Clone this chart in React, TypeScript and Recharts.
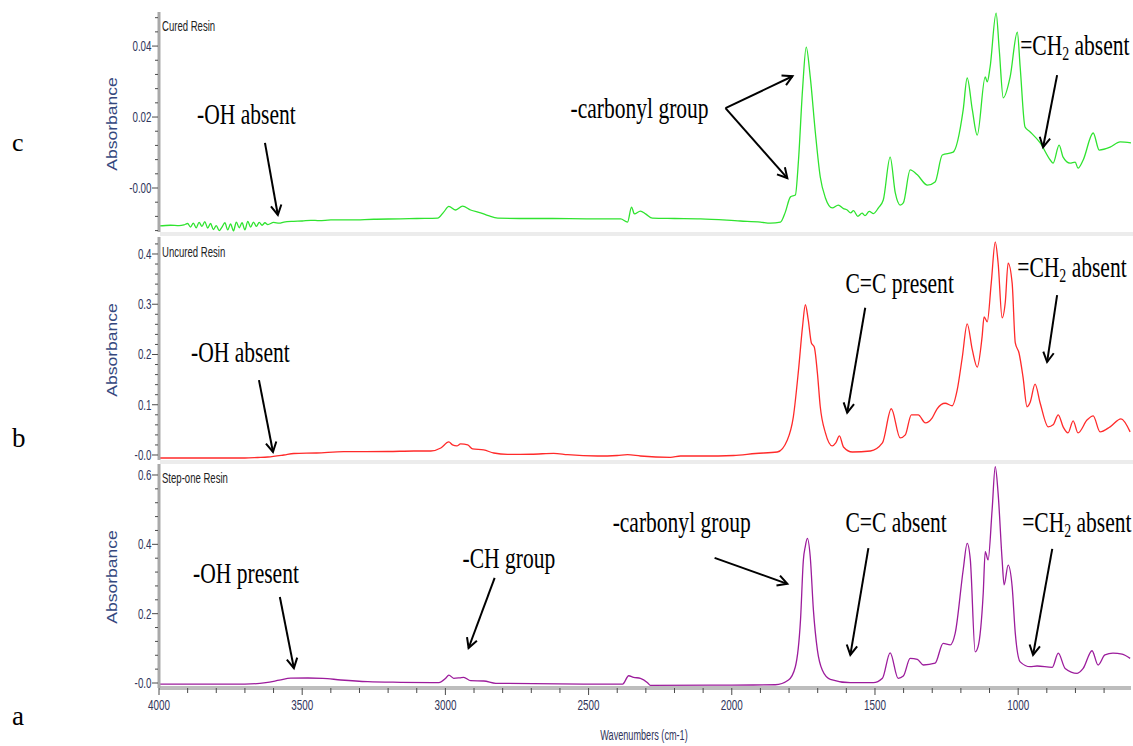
import React from "react";
import {
  LineChart,
  Line,
  XAxis,
  YAxis,
  ReferenceLine,
  ReferenceDot,
} from "recharts";

// [wavenumber cm-1, absorbance]
const curedPoints: [number, number][] = [
  [4000, -0.0107], [3960, -0.0105], [3930, -0.0106], [3913, -0.0104],
  [3900, -0.01], [3890, -0.011], [3880, -0.0099], [3870, -0.0112],
  [3860, -0.0097], [3850, -0.0108], [3840, -0.0095], [3830, -0.0113],
  [3820, -0.01], [3810, -0.0117], [3800, -0.0106], [3790, -0.012],
  [3780, -0.011], [3770, -0.0098], [3760, -0.0118], [3750, -0.0101],
  [3740, -0.0121], [3730, -0.0096], [3720, -0.0112], [3710, -0.0098],
  [3700, -0.0118], [3690, -0.0094], [3680, -0.011], [3670, -0.0096],
  [3660, -0.0108], [3650, -0.0097], [3640, -0.0105], [3630, -0.0098],
  [3620, -0.0103], [3600, -0.0097], [3580, -0.0099], [3564, -0.0096],
  [3530, -0.0094], [3500, -0.0093], [3470, -0.0091], [3440, -0.0092],
  [3400, -0.009], [3330, -0.009], [3250, -0.0088], [3156, -0.0087],
  [3100, -0.0086], [3027, -0.0085], [3006, -0.0068], [2988, -0.0052],
  [2964, -0.0062], [2940, -0.0051], [2912, -0.0062], [2877, -0.007],
  [2850, -0.0078], [2817, -0.0085], [2700, -0.0086], [2633, -0.0086],
  [2500, -0.0087], [2388, -0.0087], [2364, -0.0096], [2350, -0.0054],
  [2340, -0.0073], [2319, -0.0065], [2301, -0.0073], [2277, -0.0085],
  [2200, -0.0086], [2109, -0.0087], [1970, -0.0093], [1900, -0.0096],
  [1865, -0.0099], [1830, -0.0096], [1813, -0.0068], [1795, -0.0025],
  [1778, -0.002], [1767, 0.0079], [1753, 0.0276], [1740, 0.0397],
  [1726, 0.0313], [1708, 0.0155], [1691, 0.0031], [1673, -0.0028],
  [1649, -0.0056], [1628, -0.0048], [1610, -0.0058], [1597, -0.0062],
  [1585, -0.007], [1575, -0.0064], [1560, -0.008], [1545, -0.0071],
  [1535, -0.0078], [1520, -0.0066], [1505, -0.0072], [1488, -0.0056],
  [1471, -0.0034], [1447, 0.0087], [1429, -0.0014], [1412, -0.0048],
  [1401, -0.0042], [1377, 0.0051], [1352, 0.0037], [1317, 0.0008],
  [1290, 0.0017], [1265, 0.0093], [1227, 0.0101], [1192, 0.022],
  [1178, 0.031], [1160, 0.022], [1143, 0.0149], [1115, 0.0313],
  [1108, 0.0299], [1098, 0.0341], [1077, 0.0493], [1066, 0.0389],
  [1052, 0.0254], [1028, 0.0313], [1003, 0.0439], [993, 0.0341],
  [976, 0.0172], [958, 0.0158], [923, 0.0127], [888, 0.0079],
  [878, 0.007], [857, 0.0121], [843, 0.0087], [819, 0.007],
  [801, 0.0073], [791, 0.0056], [773, 0.0079], [738, 0.0155],
  [717, 0.0107], [679, 0.0115], [644, 0.013], [606, 0.0127],
];

const uncuredPoints: [number, number][] = [
  [4000, -0.006], [3700, -0.006], [3655, -0.005], [3620, -0.004],
  [3564, 0], [3529, 0.003], [3450, 0.004], [3355, 0.0066],
  [3200, 0.007], [3110, 0.008], [3051, 0.008], [3016, 0.014],
  [2988, 0.026], [2975, 0.02], [2960, 0.018], [2947, 0.022],
  [2922, 0.02], [2905, 0.012], [2866, 0.01], [2831, 0.004],
  [2783, 0.0014], [2700, 0.0015], [2622, 0.0034], [2573, 0.0006],
  [2469, -0.002], [2400, -0.001], [2364, 0.0006], [2319, -0.002],
  [2214, -0.0046], [2179, -0.002], [2100, -0.002], [1994, -0.001],
  [1917, 0.003], [1841, 0.006], [1806, 0.03], [1785, 0.076],
  [1767, 0.169], [1753, 0.255], [1743, 0.299], [1733, 0.269],
  [1722, 0.223], [1712, 0.215], [1701, 0.163], [1691, 0.096],
  [1673, 0.044], [1649, 0.018], [1637, 0.024], [1624, 0.038],
  [1610, 0.016], [1579, 0.006], [1516, 0.008], [1474, 0.024],
  [1443, 0.092], [1412, 0.034], [1394, 0.04], [1373, 0.08],
  [1349, 0.08], [1324, 0.064], [1300, 0.074], [1283, 0.092],
  [1255, 0.103], [1230, 0.098], [1213, 0.129], [1195, 0.195],
  [1178, 0.261], [1160, 0.209], [1143, 0.175], [1126, 0.235],
  [1119, 0.275], [1108, 0.265], [1094, 0.342], [1080, 0.424],
  [1070, 0.382], [1056, 0.273], [1045, 0.304], [1035, 0.382],
  [1021, 0.342], [1010, 0.223], [997, 0.203], [983, 0.155],
  [969, 0.096], [958, 0.105], [941, 0.141], [923, 0.103],
  [895, 0.056], [878, 0.06], [860, 0.08], [843, 0.056],
  [826, 0.044], [808, 0.068], [791, 0.044], [759, 0.07],
  [738, 0.078], [714, 0.046], [679, 0.056], [641, 0.072],
  [609, 0.046],
];

const stepOnePoints: [number, number][] = [
  [4000, -0.003], [3700, -0.003], [3627, 0.001], [3580, 0.008],
  [3540, 0.014], [3480, 0.0145], [3428, 0.0136], [3365, 0.0087],
  [3271, 0.0037], [3156, 0.002], [3023, 0.001], [2999, 0.0136],
  [2988, 0.023], [2971, 0.0136], [2950, 0.015], [2936, 0.0164],
  [2912, 0.0066], [2866, 0.0058], [2824, -0.001], [2517, -0.003],
  [2381, -0.003], [2360, 0.021], [2343, 0.0164], [2319, 0.0136],
  [2294, 0.001], [2284, -0.0066], [2000, -0.006], [1848, -0.005],
  [1802, 0.0087], [1778, 0.047], [1760, 0.182], [1750, 0.355],
  [1743, 0.395], [1736, 0.417], [1726, 0.364], [1715, 0.211],
  [1701, 0.095], [1684, 0.0375], [1656, 0.0107], [1586, 0.001],
  [1506, 0.001], [1474, 0.0136], [1447, 0.087], [1419, 0.0136],
  [1401, 0.02], [1377, 0.071], [1352, 0.068], [1331, 0.052],
  [1290, 0.057], [1262, 0.1145], [1237, 0.11], [1220, 0.143],
  [1192, 0.326], [1178, 0.403], [1167, 0.355], [1150, 0.09],
  [1140, 0.105], [1122, 0.259], [1115, 0.379], [1105, 0.355],
  [1091, 0.499], [1080, 0.624], [1070, 0.547], [1056, 0.355],
  [1049, 0.283], [1035, 0.34], [1021, 0.278], [1010, 0.143],
  [993, 0.061], [958, 0.047], [934, 0.049], [881, 0.045],
  [860, 0.086], [836, 0.042], [794, 0.028], [773, 0.042],
  [742, 0.093], [721, 0.052], [697, 0.081], [669, 0.086],
  [637, 0.083], [609, 0.071],
];

const xMajor = [4000, 3500, 3000, 2500, 2000, 1500, 1000];
const xTicks: number[] = [];
for (let w = 3900; w >= 700; w -= 100) xTicks.push(w);
xTicks.push(4000);

const curedMajor = [0, 0.02, 0.04];
const curedLabels = ["-0.00", "0.02", "0.04"];
const uncuredMajor = [0, 0.1, 0.2, 0.3, 0.4];
const uncuredLabels = ["-0.0", "0.1", "0.2", "0.3", "0.4"];
const stepOneMajor = [0, 0.2, 0.4, 0.6];
const stepOneLabels = ["-0.0", "0.2", "0.4", "0.6"];

type Note = {
  text: string;
  sub?: string;
  tail?: string;
  at: [number, number];
  arrows: [number, number, number, number][];
};

const curedNotes: Note[] = [
  { text: "-OH absent", at: [3867, 0.018], arrows: [[3630, 0.0127, 3585, -0.0076]] },
  {
    text: "-carbonyl group",
    at: [2563, 0.0197],
    arrows: [
      [2022, 0.0225, 1788, 0.0315],
      [2022, 0.0225, 1806, 0.0028],
    ],
  },
  { text: "=CH", sub: "2", tail: " absent", at: [993, 0.0375], arrows: [[864, 0.0318, 913, 0.0115]] },
];

const uncuredNotes: Note[] = [
  { text: "-OH absent", at: [3888, 0.185], arrows: [[3651, 0.149, 3602, 0.006]] },
  { text: "C=C present", at: [1603, 0.322], arrows: [[1534, 0.293, 1597, 0.084]] },
  { text: "=CH", sub: "2", tail: " absent", at: [1003, 0.354], arrows: [[864, 0.318, 899, 0.185]] },
];

const stepOneNotes: Note[] = [
  { text: "-OH present", at: [3881, 0.288], arrows: [[3578, 0.248, 3529, 0.043]] },
  { text: "-CH group", at: [2940, 0.332], arrows: [[2828, 0.303, 2919, 0.101]] },
  { text: "-carbonyl group", at: [2416, 0.436], arrows: [[2060, 0.361, 1806, 0.286]] },
  { text: "C=C absent", at: [1603, 0.436], arrows: [[1523, 0.389, 1586, 0.081]] },
  { text: "=CH", sub: "2", tail: " absent", at: [986, 0.436], arrows: [[881, 0.387, 948, 0.081]] },
];

const SANS = "'Liberation Sans', Arial, sans-serif";
const SERIF = "'Liberation Serif', 'Times New Roman', serif";

function minorTicks(lo: number, hi: number, step: number) {
  const out: number[] = [];
  const n = Math.round((hi - lo) / step);
  for (let i = 0; i <= n; i++) out.push(Math.round((lo + i * step) * 1e6) / 1e6);
  return out;
}

const makeYTick = (majors: number[], labels: string[]) => (p: any) => {
  const { x, y, payload } = p;
  const i = majors.findIndex((m) => Math.abs(m - payload.value) < 1e-9);
  return (
    <g>
      <line x1={x - (i >= 0 ? 7 : 4)} x2={x - 1} y1={y} y2={y} stroke="#4a4a4a" strokeWidth={1} />
      {i >= 0 && (
        <text
          transform={`translate(${x - 7.5},${y + 5}) scale(0.7,1)`}
          textAnchor="end"
          fontFamily={SANS}
          fontSize={14}
          fill="#30345a"
        >
          {labels[i]}
        </text>
      )}
    </g>
  );
};

const XTick = (p: any) => {
  const { x, y, payload } = p;
  const major = xMajor.includes(payload.value);
  return (
    <g>
      <line x1={x} x2={x} y1={y} y2={y + (major ? 7 : 5)} stroke="#4a4a4a" strokeWidth={1} />
      {major && (
        <text
          transform={`translate(${x},${y + 22}) scale(0.66,1)`}
          textAnchor="middle"
          fontFamily={SANS}
          fontSize={15}
          fill="#30345a"
        >
          {payload.value}
        </text>
      )}
    </g>
  );
};

const Arrow = (p: any) => {
  const { x1, y1, x2, y2 } = p;
  const a = Math.atan2(y2 - y1, x2 - x1);
  const h = 11;
  const s = 0.5;
  const ax = x2 - h * Math.cos(a - s);
  const ay = y2 - h * Math.sin(a - s);
  const bx = x2 - h * Math.cos(a + s);
  const by = y2 - h * Math.sin(a + s);
  return (
    <g>
      <line x1={x1} y1={y1} x2={x2} y2={y2} stroke="#000" strokeWidth={2} />
      <polyline points={`${ax},${ay} ${x2},${y2} ${bx},${by}`} fill="none" stroke="#000" strokeWidth={2} />
    </g>
  );
};

const noteText = (n: Note) => (p: any) => (
  <text
    transform={`translate(${p.cx},${p.cy}) scale(0.73,1)`}
    fontFamily={SERIF}
    fontSize={29.5}
    fill="#000"
  >
    {n.text}
    {n.sub && (
      <tspan fontSize={19} dy={5}>
        {n.sub}
      </tspan>
    )}
    {n.tail && <tspan dy={n.sub ? -5 : 0}>{n.tail}</tspan>}
  </text>
);

type PanelProps = {
  top: number;
  height: number;
  marginTop: number;
  marginBottom: number;
  points: [number, number][];
  color: string;
  domain: [number, number];
  majors: number[];
  labels: string[];
  minor: number[];
  notes: Note[];
  showX?: boolean;
};

function Panel(props: PanelProps) {
  const data = props.points.map(([wn, abs]) => ({ wn, abs }));
  const ticks = props.minor.filter((v) => v >= props.domain[0] && v <= props.domain[1]);
  return (
    <div style={{ position: "absolute", left: 0, top: props.top }}>
      <LineChart
        width={1133}
        height={props.height}
        data={data}
        margin={{ top: props.marginTop, right: 2, bottom: props.marginBottom, left: 99 }}
      >
        <XAxis
          type="number"
          dataKey="wn"
          domain={[606, 4000]}
          reversed
          allowDataOverflow
          hide={!props.showX}
          ticks={xTicks}
          interval={0}
          tickSize={0}
          tickMargin={0}
          tickLine={false}
          tick={XTick}
          height={58}
          axisLine={{ stroke: "#bdbdbd", strokeWidth: 4 }}
        />
        <YAxis
          type="number"
          domain={props.domain}
          allowDataOverflow
          ticks={ticks}
          interval={0}
          tickSize={0}
          tickMargin={0}
          tickLine={false}
          tick={makeYTick(props.majors, props.labels)}
          width={60}
          axisLine={{ stroke: "#a9a9a9", strokeWidth: 3 }}
        />
        <Line
          type="monotone"
          dataKey="abs"
          stroke={props.color}
          strokeWidth={1.3}
          dot={false}
          isAnimationActive={false}
        />
        {props.notes.map((n, i) => (
          <ReferenceDot key={`t${i}`} x={n.at[0]} y={n.at[1]} r={0} shape={noteText(n)} />
        ))}
        {props.notes.flatMap((n, i) =>
          n.arrows.map((a, j) => (
            <ReferenceLine
              key={`a${i}-${j}`}
              segment={[
                { x: a[0], y: a[1] },
                { x: a[2], y: a[3] },
              ]}
              shape={Arrow}
            />
          ))
        )}
      </LineChart>
    </div>
  );
}

export default function App() {
  const absorbanceAt = [124, 350, 577];
  return (
    <div style={{ position: "absolute", left: 0, top: 0, width: 1133, height: 746, background: "#fff" }}>
      <svg width={1133} height={746} style={{ position: "absolute", left: 0, top: 0 }}>
        <rect x={160} y={232} width={973} height={4} fill="#ececec" />
        <rect x={160} y={460} width={973} height={4} fill="#ececec" />
        <text x={12} y={151} fontFamily={SERIF} fontSize={26} fill="#000">c</text>
        <text x={12} y={447} fontFamily={SERIF} fontSize={27} fill="#000">b</text>
        <text x={12} y={725} fontFamily={SERIF} fontSize={27} fill="#000">a</text>
        {absorbanceAt.map((cy) => (
          <text
            key={cy}
            transform={`translate(117,${cy}) rotate(-90) scale(1.17,1)`}
            textAnchor="middle"
            fontFamily={SANS}
            fontSize={15}
            fill="#34487e"
          >
            Absorbance
          </text>
        ))}
        <text transform="translate(162,30.5) scale(0.66,1)" fontFamily={SANS} fontSize={14.5} fill="#222">
          Cured Resin
        </text>
        <text transform="translate(162,256.5) scale(0.66,1)" fontFamily={SANS} fontSize={14.5} fill="#222">
          Uncured Resin
        </text>
        <text transform="translate(162,483) scale(0.66,1)" fontFamily={SANS} fontSize={14.5} fill="#222">
          Step-one Resin
        </text>
        <text transform="translate(644,740) scale(0.63,1)" textAnchor="middle" fontFamily={SANS} fontSize={14.5} fill="#30345a">
          Wavenumbers (cm-1)
        </text>
      </svg>
      <Panel
        top={0}
        height={236}
        marginTop={12}
        marginBottom={4}
        points={curedPoints}
        color="#2fe32f"
        domain={[-0.0124, 0.0496]}
        majors={curedMajor}
        labels={curedLabels}
        minor={minorTicks(-0.012, 0.048, 0.004)}
        notes={curedNotes}
      />
      <Panel
        top={232}
        height={232}
        marginTop={5}
        marginBottom={4}
        points={uncuredPoints}
        color="#ff2a2a"
        domain={[-0.00995, 0.4338]}
        majors={uncuredMajor}
        labels={uncuredLabels}
        minor={minorTicks(0, 0.42, 0.02)}
        notes={uncuredNotes}
      />
      <Panel
        top={460}
        height={286}
        marginTop={4}
        marginBottom={0}
        points={stepOnePoints}
        color="#9c1c9c"
        domain={[-0.0144, 0.6317]}
        majors={stepOneMajor}
        labels={stepOneLabels}
        minor={minorTicks(0, 0.6, 0.04)}
        notes={stepOneNotes}
        showX
      />
    </div>
  );
}
